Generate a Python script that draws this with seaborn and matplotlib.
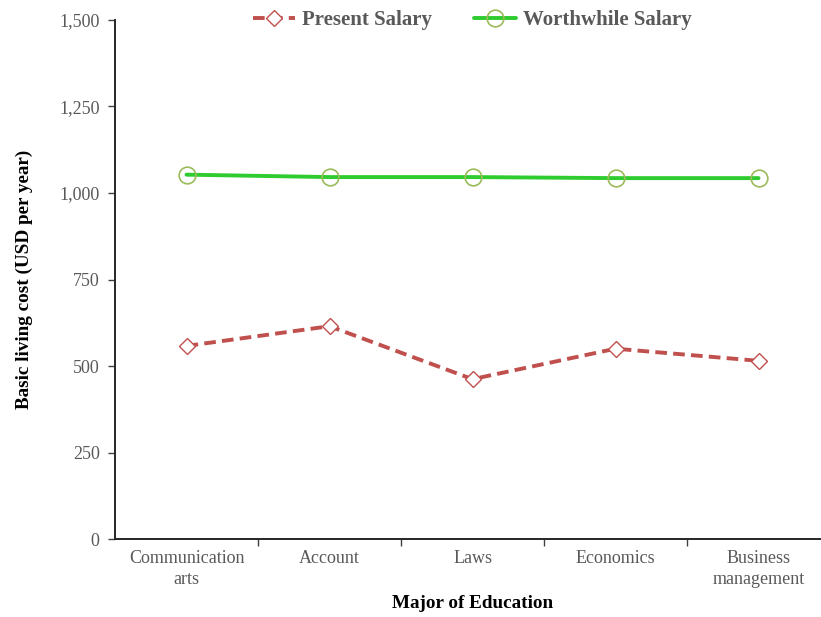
import matplotlib
matplotlib.use("Agg")
import matplotlib.pyplot as plt
from matplotlib.ticker import FuncFormatter, FixedLocator, NullFormatter
import seaborn as sns
import pandas as pd

majors = ["Communication\narts", "Account", "Laws", "Economics", "Business\nmanagement"]
present_salary = [558, 615, 462, 550, 515]
worthwhile_salary = [1053, 1046, 1046, 1043, 1043]
y_ticks = [0, 250, 500, 750, 1000, 1250, 1500]

sns.set_theme(style="white")
plt.rcParams["font.family"] = ["Liberation Serif", "DejaVu Serif"]

df = pd.DataFrame({
    "pos": list(range(len(majors))) * 2,
    "value": present_salary + worthwhile_salary,
    "series": ["Present Salary"] * len(majors) + ["Worthwhile Salary"] * len(majors),
})

fig = plt.figure(figsize=(8.21, 6.17), dpi=100)
ax = fig.add_axes([0.1401, 0.1264, 0.8709, 0.8412])

sns.lineplot(data=df[df.series == "Present Salary"], x="pos", y="value", ax=ax,
             color="#C0504D", linewidth=2.8, linestyle=(0, (3, 1.6)),
             marker="D", markersize=8, markerfacecolor="white",
             markeredgecolor="#C0504D", markeredgewidth=1.0,
             label="Present Salary")
sns.lineplot(data=df[df.series == "Worthwhile Salary"], x="pos", y="value", ax=ax,
             color="#2ECC2E", linewidth=2.8,
             marker="o", markersize=12, markerfacecolor="none",
             markeredgecolor="#9BBB59", markeredgewidth=1.2,
             label="Worthwhile Salary")

ax.set_xlim(-0.5, len(majors) - 0.5)
ax.set_ylim(0, 1500)
ax.set_yticks(y_ticks)
ax.yaxis.set_major_formatter(FuncFormatter(lambda v, p: f"{int(v):,}"))
ax.set_xticks(range(len(majors)))
ax.set_xticklabels(majors, linespacing=1.3)
ax.xaxis.set_minor_locator(FixedLocator([i + 0.5 for i in range(len(majors))]))
ax.xaxis.set_minor_formatter(NullFormatter())
ax.tick_params(axis="x", which="major", length=0, pad=8, labelsize=13, labelcolor="#595959")
ax.tick_params(axis="x", which="minor", length=5, width=1, color="#404040", direction="out", bottom=True)
ax.tick_params(axis="y", which="major", length=5, width=1, color="#404040", direction="out",
               left=True, labelsize=13, labelcolor="#595959", pad=6)

for side in ["top", "right"]:
    ax.spines[side].set_visible(False)
for side in ["left", "bottom"]:
    ax.spines[side].set_color("#262626")
    ax.spines[side].set_linewidth(1.4)

ax.set_xlabel("Major of Education", fontsize=13.8, fontweight="bold", color="black", labelpad=5)
ax.set_ylabel("Basic living cost (USD per year)", fontsize=13.8, fontweight="bold", color="black", labelpad=19)

leg = ax.legend(loc="center", bbox_to_anchor=(0.5, 1.0), ncol=2, frameon=False,
                fontsize=15, handlelength=2.0, columnspacing=2.0, handletextpad=0.35)
for t in leg.get_texts():
    t.set_color("#595959")
    t.set_fontweight("bold")

fig.savefig("out.png", dpi=100)
